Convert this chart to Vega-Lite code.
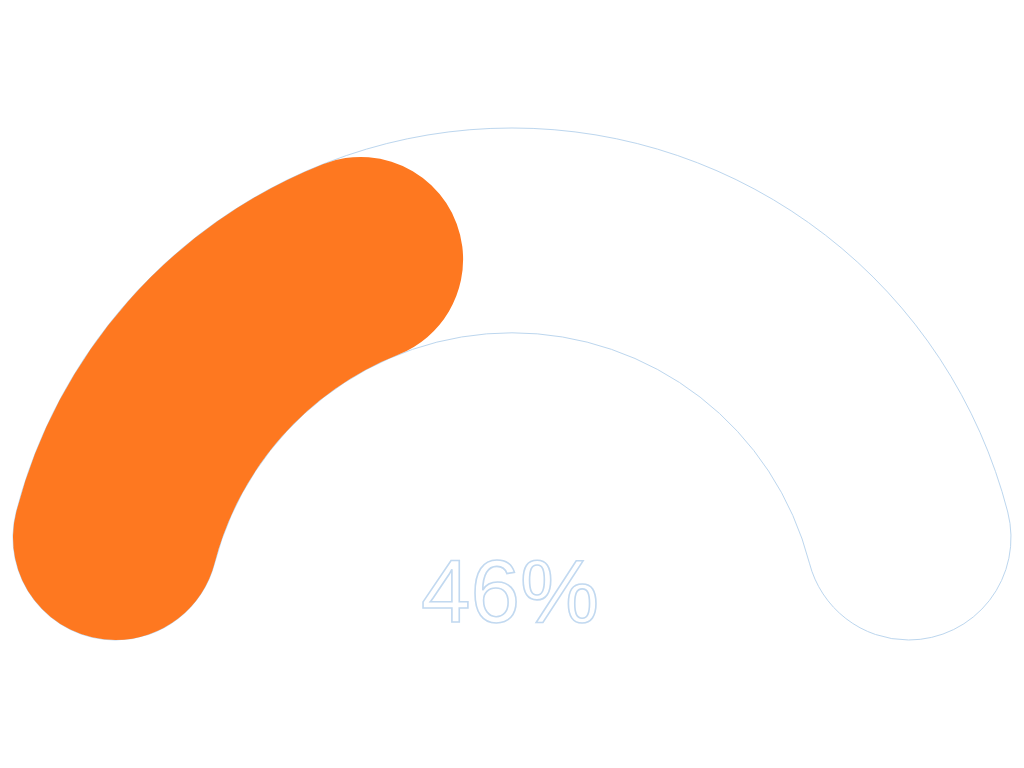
{
  "$schema": "https://vega.github.io/schema/vega-lite/v6.json",
  "width": 1024,
  "height": 768,
  "autosize": {"type": "fit", "contains": "padding"},
  "padding": 0,
  "background": "white",
  "config": {"view": {"stroke": null}},
  "data": {"values": [{"label": "progress", "min": 0, "max": 1, "value": 0.46}]},
  "layer": [
    {
      "mark": {
        "type": "arc",
        "x": {"expr": "width/2"},
        "y": {"expr": "height*5/6"},
        "outerRadius": {"expr": "width/2"},
        "innerRadius": {"expr": "width*0.3"},
        "cornerRadius": {"expr": "width*0.1"},
        "fill": "white",
        "stroke": "#bcd6ee",
        "strokeWidth": 1
      },
      "encoding": {
        "theta": {"field": "min", "type": "quantitative", "stack": null, "scale": {"domain": [0, 1], "range": [-1.5707963, 1.5707963]}},
        "theta2": {"field": "max"}
      }
    },
    {
      "mark": {
        "type": "arc",
        "x": {"expr": "width/2"},
        "y": {"expr": "height*5/6"},
        "outerRadius": {"expr": "width/2"},
        "innerRadius": {"expr": "width*0.3"},
        "cornerRadius": {"expr": "width*0.1"},
        "fill": "#fe7820",
        "stroke": null
      },
      "encoding": {
        "theta": {"field": "min", "type": "quantitative", "stack": null, "scale": {"domain": [0, 1], "range": [-1.5707963, 1.5707963]}},
        "theta2": {"field": "value"}
      }
    },
    {
      "mark": {
        "type": "text",
        "x": {"expr": "width/2"},
        "y": {"expr": "height*5/6"},
        "dy": -18,
        "dx": -2,
        "align": "center",
        "baseline": "alphabetic",
        "font": "Liberation Sans",
        "fontSize": 89,
        "fill": "white",
        "stroke": "#c2d9f0",
        "strokeWidth": 1.6
      },
      "encoding": {
        "text": {"field": "value", "type": "quantitative", "format": ".0%"}
      }
    }
  ]
}
